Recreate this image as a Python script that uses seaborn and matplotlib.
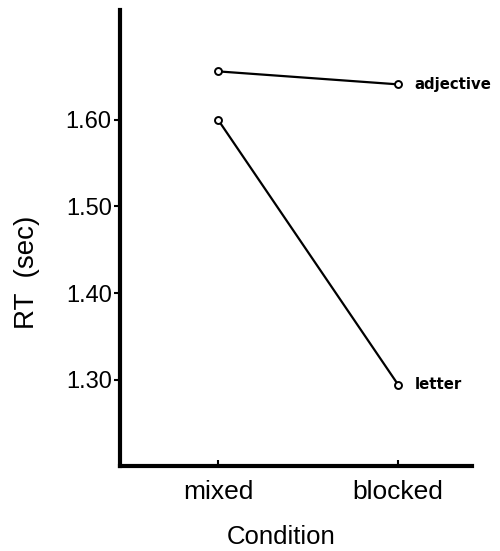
import pandas
import seaborn as sns
import matplotlib.pyplot as plt


# Values.
conditions = ['mixed', 'blocked']
adjective_rt = [1.656, 1.641]
letter_rt = [1.600, 1.294]
series_names = ['adjective', 'letter']
y_ticks = [1.30, 1.40, 1.50, 1.60]
y_tick_labels = ['1.30', '1.40', '1.50', '1.60']


def build_frame():
    rows = []
    for name, values in zip(series_names, [adjective_rt, letter_rt]):
        for cond, rt in zip(conditions, values):
            rows.append({'Condition': cond, 'RT': rt, 'Task': name})
    return pandas.DataFrame(rows)


def plot_rt():
    df = build_frame()

    sns.set_style('ticks', rc = {
        'text.color': 'black',
        'axes.labelcolor': 'black',
        'axes.edgecolor': 'black',
        'xtick.color': 'black',
        'ytick.color': 'black'
    })
    plt.rcParams['font.family'] = ['Liberation Sans', 'DejaVu Sans']

    fig = plt.figure(figsize = (5.0, 5.51), dpi = 100)
    ax = fig.add_axes([0.24, 0.154, 0.704, 0.828])

    sns.lineplot(
        data = df, x = 'Condition', y = 'RT', units = 'Task', estimator = None,
        color = 'black', linewidth = 1.6, marker = 'o', markersize = 5,
        markerfacecolor = 'white', markeredgecolor = 'black', markeredgewidth = 1.4,
        ax = ax
    )

    # Series labels at the right end of each line.
    for name, values in zip(series_names, [adjective_rt, letter_rt]):
        ax.annotate(
            name, (1, values[-1]), xytext = (12, 0), textcoords = 'offset points',
            ha = 'left', va = 'center', fontsize = 10.7, fontweight = 'bold',
            family = 'DejaVu Sans', color = 'black'
        )

    ax.set_xlim(-0.545, 1.41)
    ax.set_ylim(1.20, 1.727)
    ax.set_yticks(y_ticks)
    ax.set_yticklabels(y_tick_labels)

    sns.despine(ax = ax)
    for side in ['left', 'bottom']:
        ax.spines[side].set_linewidth(3)

    ax.tick_params(axis = 'y', direction = 'out', length = 4, width = 1.5,
                   labelsize = 17, pad = 2)
    ax.tick_params(axis = 'x', direction = 'in', length = 4, width = 1.5,
                   labelsize = 19, pad = 10)

    ax.set_ylabel('RT  (sec)', fontsize = 20)
    ax.yaxis.set_label_coords(-0.227, 0.425)
    ax.set_xlabel('Condition', fontsize = 18.5, va = 'top')
    ax.xaxis.set_label_coords(0.457, -0.13)

    fig.savefig('out.png', dpi = 100)


plot_rt()
